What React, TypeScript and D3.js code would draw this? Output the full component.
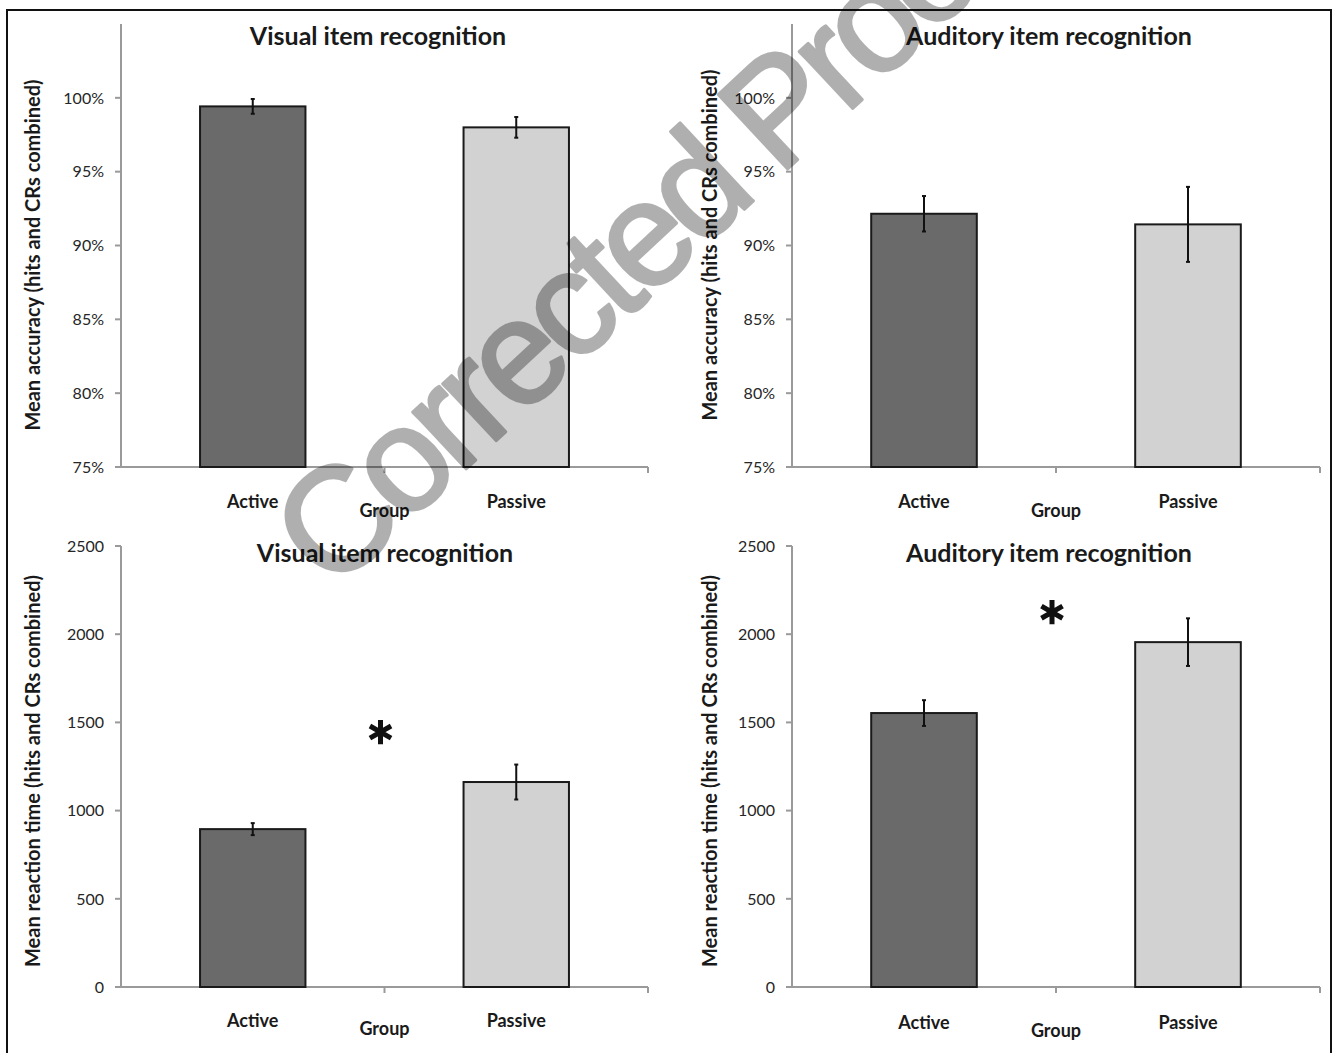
import React from "react";
import * as d3 from "d3";

const groups = ["Active", "Passive"];
const accVisualMean = [99.42, 98.0];
const accVisualErr = [0.5, 0.7];
const accAuditoryMean = [92.15, 91.43];
const accAuditoryErr = [1.2, 2.54];
const rtVisualMean = [895, 1162];
const rtVisualErr = [34, 99];
const rtAuditoryMean = [1553, 1955];
const rtAuditoryErr = [73, 135];
const accTicks = [75, 80, 85, 90, 95, 100];
const rtTicks = [0, 500, 1000, 1500, 2000, 2500];
const fills = ["#6a6a6a", "#d2d2d2"];

const FONT = "Lato, 'Open Sans', sans-serif";

type PanelProps = {
  x0: number; x1: number; yTop: number; yBot: number;
  domain: [number, number]; ticks: number[]; fmt: (v: number) => string;
  means: number[]; errs: number[]; title: string; titleX: number; titleY: number;
  yLabel: string; yLabelX: number; yLabelY: number; catY: number; groupY: number;
  star?: number;
};

const starPath = d3.symbol().type(d3.symbolAsterisk).size(420)() as string;

function Panel(p: PanelProps) {
  const x = d3.scaleBand<string>().domain(groups).range([p.x0, p.x1]).paddingInner(0.6).paddingOuter(0.3);
  const y = d3.scaleLinear().domain(p.domain).range([p.yBot, p.yTop]);
  const mid = (p.x0 + p.x1) / 2;
  const axisColor = "#9a9a9a";
  return (
    <g>
      <text x={p.titleX} y={p.titleY} textAnchor="middle" fontFamily={FONT} fontWeight="bold" fontSize={25} fill="#1a1a1a">{p.title}</text>
      <line x1={p.x0} x2={p.x0} y1={p.yTop} y2={p.yBot} stroke={axisColor} strokeWidth={2} />
      {p.ticks.map((t) => (
        <g key={t}>
          <line x1={p.x0 - 6} x2={p.x0} y1={y(t)} y2={y(t)} stroke={axisColor} strokeWidth={2} />
          <text x={p.x0 - 17} y={y(t)} dy="0.36em" textAnchor="end" fontFamily={FONT} fontSize={16} fill="#262626">{p.fmt(t)}</text>
        </g>
      ))}
      <text transform={`translate(${p.yLabelX},${p.yLabelY}) rotate(-90)`} textAnchor="middle" dy="0.35em" fontFamily={FONT} fontWeight="bold" fontSize={20} fill="#1a1a1a">{p.yLabel}</text>
      <line x1={p.x0} x2={p.x1} y1={p.yBot} y2={p.yBot} stroke={axisColor} strokeWidth={2} />
      {[mid, p.x1].map((tx, i) => (
        <line key={i} x1={tx} x2={tx} y1={p.yBot} y2={p.yBot + 6} stroke={axisColor} strokeWidth={2} />
      ))}
      {groups.map((g, i) => {
        const bx = x(g)!;
        const bw = x.bandwidth();
        const cx = bx + bw / 2;
        const top = y(p.means[i]);
        const e1 = y(p.means[i] + p.errs[i]);
        const e2 = y(p.means[i] - p.errs[i]);
        return (
          <g key={g}>
            <rect x={bx} y={top} width={bw} height={p.yBot - top} fill={fills[i]} stroke="#1a1a1a" strokeWidth={2} />
            <line x1={cx} x2={cx} y1={e1} y2={e2} stroke="#111" strokeWidth={2} />
            <line x1={cx - 2} x2={cx + 2} y1={e1} y2={e1} stroke="#111" strokeWidth={2} />
            <line x1={cx - 2} x2={cx + 2} y1={e2} y2={e2} stroke="#111" strokeWidth={2} />
            <text x={cx} y={p.catY} textAnchor="middle" fontFamily={FONT} fontWeight="bold" fontSize={18} fill="#1a1a1a">{g}</text>
          </g>
        );
      })}
      <text x={mid} y={p.groupY} textAnchor="middle" fontFamily={FONT} fontWeight="bold" fontSize={18} fill="#1a1a1a">Group</text>
      {p.star !== undefined && (
        <path d={starPath} transform={`translate(${mid - 4},${y(p.star)})`} fill="none" stroke="#111" strokeWidth={5} />
      )}
    </g>
  );
}

export default function App() {
  const pct = (v: number) => `${v}%`;
  const num = (v: number) => `${v}`;
  return (
    <div style={{ position: "absolute", left: 0, top: 0 }}>
      <svg width={1334} height={1053} style={{ display: "block", background: "#fff" }}>
        <rect x={0} y={0} width={1334} height={1053} fill="#fff" />
        <rect x={7} y={10} width={1324} height={1060} fill="none" stroke="#111" strokeWidth={2} />
        <Panel x0={121} x1={648} yTop={24} yBot={467} domain={[75, 105]} ticks={accTicks} fmt={pct}
          means={accVisualMean} errs={accVisualErr} title="Visual item recognition" titleX={378} titleY={45}
          yLabel="Mean accuracy (hits and CRs combined)" yLabelX={33} yLabelY={255} catY={508} groupY={517} />
        <Panel x0={792} x1={1320} yTop={24} yBot={467} domain={[75, 105]} ticks={accTicks} fmt={pct}
          means={accAuditoryMean} errs={accAuditoryErr} title="Auditory item recognition" titleX={1049} titleY={45}
          yLabel="Mean accuracy (hits and CRs combined)" yLabelX={710} yLabelY={245} catY={508} groupY={517} />
        <Panel x0={121} x1={648} yTop={546} yBot={987} domain={[0, 2500]} ticks={rtTicks} fmt={num}
          means={rtVisualMean} errs={rtVisualErr} title="Visual item recognition" titleX={385} titleY={562}
          yLabel="Mean reaction time (hits and CRs combined)" yLabelX={33} yLabelY={771} catY={1027} groupY={1035} star={1445} />
        <Panel x0={792} x1={1320} yTop={546} yBot={987} domain={[0, 2500]} ticks={rtTicks} fmt={num}
          means={rtAuditoryMean} errs={rtAuditoryErr} title="Auditory item recognition" titleX={1049} titleY={562}
          yLabel="Mean reaction time (hits and CRs combined)" yLabelX={710} yLabelY={771} catY={1029} groupY={1037} star={2125} />
        <g opacity={0.31}>
          <text transform="translate(332,594) rotate(-43)" fontFamily="'Liberation Sans', Arial, sans-serif" fontSize={148} letterSpacing={-8} fill="#000" stroke="#000" strokeWidth={3} strokeLinejoin="round">Corrected Proof</text>
        </g>
      </svg>
    </div>
  );
}
